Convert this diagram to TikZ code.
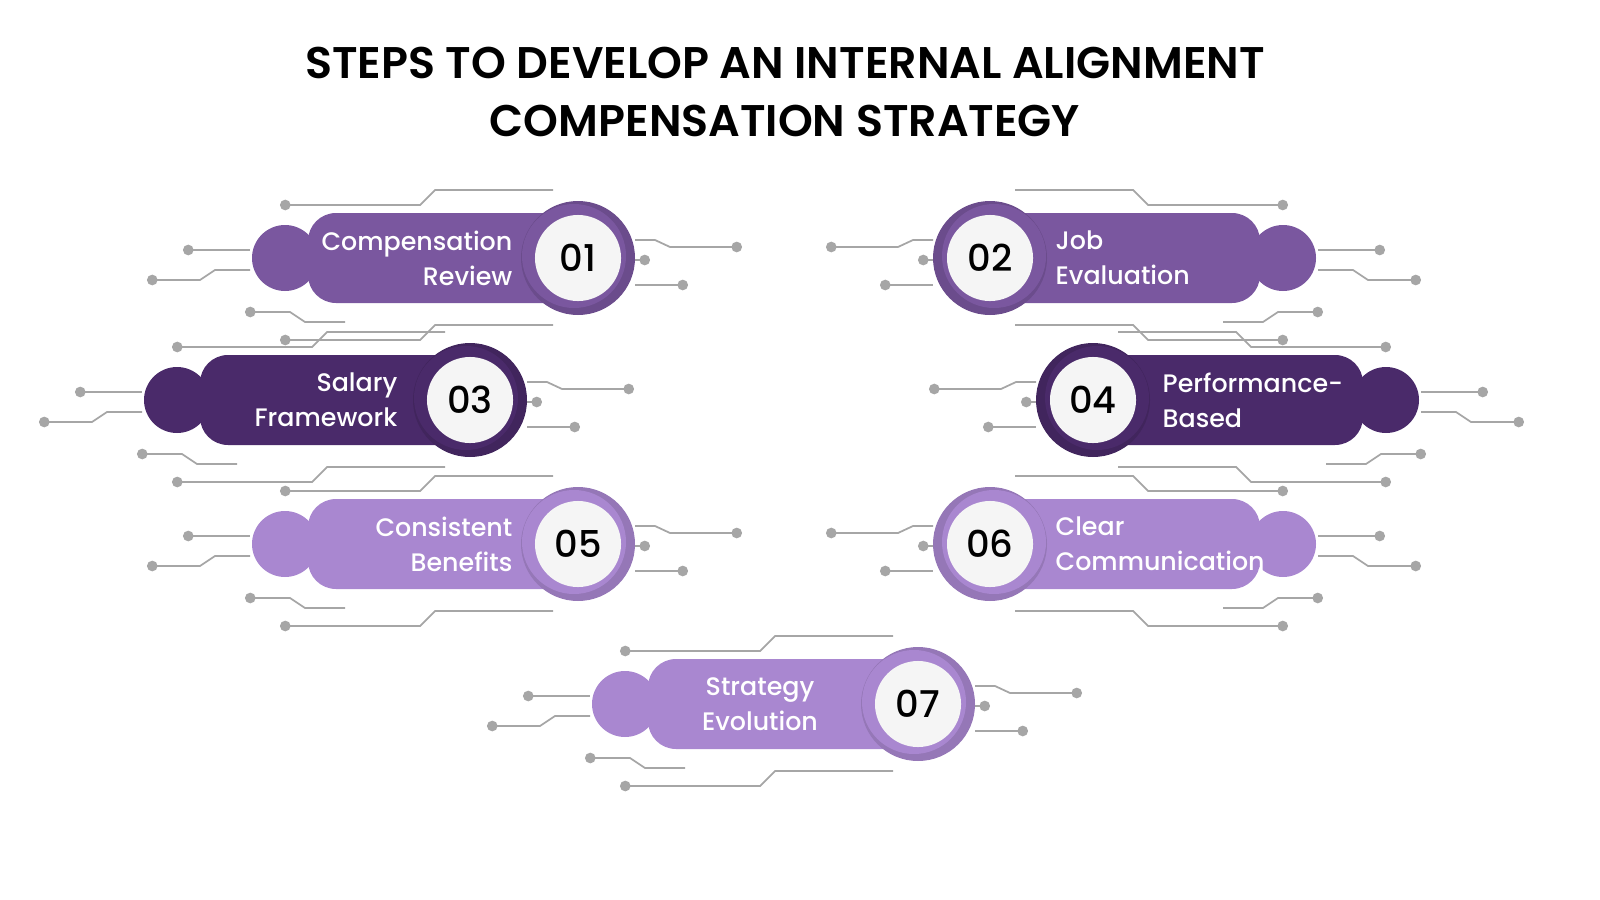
\documentclass[tikz,border=0pt]{standalone}
\usepackage{fontspec}
\setmainfont{Poppins}
\newfontfamily\semibold{Poppins SemiBold}
\newfontfamily\medium{Poppins Medium}
\usepackage{tikz}
\usetikzlibrary{arrows.meta}

\definecolor{midpurple}{HTML}{7A579F}
\definecolor{darkpurple}{HTML}{4A2A6A}
\definecolor{lightpurple}{HTML}{A987D0}

\tikzset{
  wire/.style={draw=black!35,line width=0.5pt,{Circle[length=3pt]}-},
  num/.style={circle,fill=white!96!black,minimum size=0.86cm,inner sep=0pt,
              font=\medium\fontsize{10.5}{11}\selectfont},
  step label/.style={text=white,font=\medium\fontsize{7.2}{10}\selectfont,inner sep=0pt},
}

% one step: x, y, xscale, colour, number, name
\newcommand\stepitem[6]{%
  \begin{scope}[shift={(#1,#2)},xscale=#3]
    \draw[wire] (-298,-53) -- (-158,-53) -- (-143,-68) -- (-25,-68);
    \draw[wire] (-395,-8) -- (-328,-8);
    \draw[wire] (-431,22) -- (-378,22) -- (-363,12) -- (-328,12);
    \draw[wire] (-333,54) -- (-288,54) -- (-273,64) -- (-233,64);
    \draw[wire] (-298,82) -- (-158,82) -- (-143,67) -- (-25,67);
    \draw[wire] (164,-11) -- (92,-11) -- (77,-18) -- (57,-18);
    \draw[wire] (72,2) -- (57,2);
    \draw[wire] (110,27) -- (57,27);
    \fill[#4] (-293,0) circle (33);
    \fill[#4,rounded corners=0.28cm] (-270,-45) rectangle (10,45);
    \fill[#4!88!black] (0,0) circle (57);
    \fill[#4] (-4,-2) circle (52);
    \node[num] (#6) at (0,0) {#5};
  \end{scope}}

\begin{document}
\begin{tikzpicture}[x=0.01cm,y=-0.01cm]
  \useasboundingbox (0,0) rectangle (1600,900);

  \node[font=\semibold\fontsize{12.6}{16.5}\selectfont,align=center] (title) at (785,92)
    {STEPS TO DEVELOP AN INTERNAL ALIGNMENT\\COMPENSATION STRATEGY};

  \stepitem{578}{258}{1}{midpurple}{01}{s1}
  \stepitem{990}{258}{-1}{midpurple}{02}{s2}
  \stepitem{470}{400}{1}{darkpurple}{03}{s3}
  \stepitem{1093}{400}{-1}{darkpurple}{04}{s4}
  \stepitem{578}{544}{1}{lightpurple}{05}{s5}
  \stepitem{990}{544}{-1}{lightpurple}{06}{s6}
  \stepitem{918}{704}{1}{lightpurple}{07}{s7}

  \node[step label,align=right,anchor=east] at (513,258) {Compensation\\Review};
  \node[step label,align=left,anchor=west] at (1055,258) {Job\\Evaluation};
  \node[step label,align=right,anchor=east] at (398,400) {Salary\\Framework};
  \node[step label,align=left,anchor=west] at (1162,400) {Performance-\\Based};
  \node[step label,align=right,anchor=east] at (513,544) {Consistent\\Benefits};
  \node[step label,align=left,anchor=west] at (1055,544) {Clear\\Communication};
  \node[step label,align=center] at (760,704) {Strategy\\Evolution};
\end{tikzpicture}
\end{document}
